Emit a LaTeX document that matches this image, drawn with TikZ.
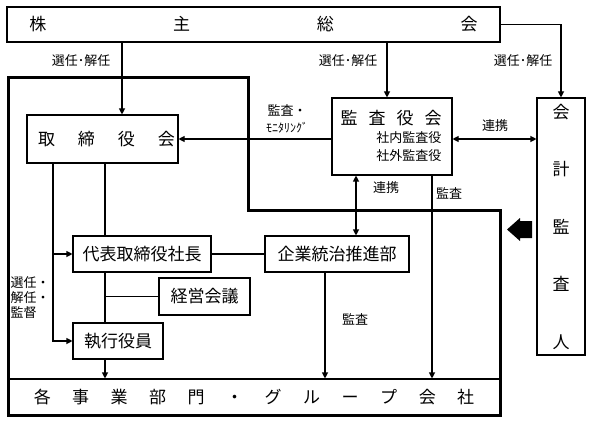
\documentclass[tikz,border=0pt]{standalone}
\usepackage{fontspec}
\setmainfont{Noto Sans CJK JP}
\usetikzlibrary{arrows.meta}
\begin{document}
\begin{tikzpicture}[x=1pt,y=-1pt,>={Triangle[length=6pt,width=6pt]},line width=1.1pt,
		lbl/.style={inner sep=0pt,font=\fontsize{13}{15}\selectfont}]
	\useasboundingbox (0,0) rectangle (591,422);
	
	\begin{scope}[every node/.style={rectangle,draw,line width=1.1pt,inner sep=0pt,font=\fontsize{17}{19}\selectfont}]
		\node[minimum width=493pt,minimum height=35pt] (kabunushi) at (253.5,24.5) {株\hspace{126.7pt}主\hspace{126.7pt}総\hspace{126.7pt}会};
		\node[minimum width=151pt,minimum height=48pt] (torishimari) at (102.5,139) {\hspace{8pt}取\hspace{23pt}締\hspace{23pt}役\hspace{23pt}会};
		\node[minimum width=120pt,minimum height=77pt] (kansa) at (392,136.5) {};
		\node[minimum width=48pt,minimum height=257pt,align=center,font=\fontsize{17}{57.5}\selectfont] (kaikei) at (561,226.5) {会\\計\\監\\査\\人};
		\node[minimum width=138pt,minimum height=36pt] (daihyo) at (142,254) {代表取締役社長};
		\node[minimum width=144pt,minimum height=36pt] (kigyo) at (337,254) {企業統治推進部};
		\node[minimum width=91pt,minimum height=37pt] (keiei) at (204.5,296.5) {経営会議};
		\node[minimum width=90pt,minimum height=36pt] (shikko) at (118,341) {執行役員};
		\node[minimum width=492pt,minimum height=36pt] (jigyo) at (254,397) {各\hspace{21.5pt}事\hspace{21.5pt}業\hspace{21.5pt}部\hspace{21.5pt}門\hspace{21.5pt}・\hspace{21.5pt}グ\hspace{21.5pt}ル\hspace{21.5pt}ー\hspace{21.5pt}プ\hspace{21.5pt}会\hspace{21.5pt}社};
	\end{scope}
	\node[inner sep=0pt,font=\fontsize{17}{19}\selectfont] (kansaTitle) at (391,118) {監\hspace{11pt}査\hspace{11pt}役\hspace{11pt}会};
	\node[inner sep=0pt,anchor=east,align=right,font=\fontsize{13}{18}\selectfont] (kansaSub) at (442,147) {社内監査役\\社外監査役};
	
	% company frame
	\draw[line width=3pt] (8,78) -- (248,78) -- (248,210) -- (500,210) -- (500,415) -- (8,415) -- cycle;
	\fill (507,229.5) -- (520,218) -- (520,221) -- (532,221) -- (532,238) -- (520,238) -- (520,241) -- cycle;
	
	\draw[->] (kabunushi.south -| 122,0) -- (torishimari.north -| 122,0);
	\draw[->] (kabunushi.south -| 387,0) -- (kansa.north -| 387,0);
	\draw[->] (kabunushi.east) -| (kaikei.north);
	\draw[->] (kansa.west |- torishimari.east) -- (torishimari.east);
	\draw[<->] (kansa.east |- torishimari.east) -- (kaikei.west |- torishimari.east);
	\draw[<->] (kansa.south -| 356,0) -- (kigyo.north -| 356,0);
	\draw[->] (kansa.south -| 432,0) -- (jigyo.north -| 432,0);
	\draw[->] (kigyo.south -| 325,0) -- (jigyo.north -| 325,0);
	\draw (daihyo) -- (kigyo);
	\draw (torishimari.south -| 105,0) -- (daihyo.north -| 105,0);
	\draw (daihyo.south -| 105,0) -- (shikko.north -| 105,0);
	\draw (keiei.west -| 105,0) -- (keiei.west);
	\draw[->] (shikko.south -| 105,0) -- (jigyo.north -| 105,0);
	\draw[->] (torishimari.south -| 53,0) |- (shikko.west);
	\draw[->] (daihyo.west -| 53,0) -- (daihyo.west);
	
	\node[lbl] (senninA) at (81,61) {選任･解任};
	\node[lbl] (senninB) at (348,61) {選任･解任};
	\node[lbl] (senninC) at (523,61) {選任･解任};
	\node[lbl] (kansaLbl) at (287,110) {監査・};
	\node[lbl,font=\fontsize{12}{14}\selectfont] (monitor) at (287,128) {ﾓﾆﾀﾘﾝｸﾞ};
	\node[lbl] (renkeiA) at (495,126) {連携};
	\node[lbl] (renkeiB) at (386,188) {連携};
	\node[lbl] (kansaA) at (449,193) {監査};
	\node[lbl] (kansaB) at (355,319) {監査};
	\node[lbl,anchor=west,align=left] (kantoku) at (10,298) {選任・\\解任・\\監督};
\end{tikzpicture}
\end{document}
